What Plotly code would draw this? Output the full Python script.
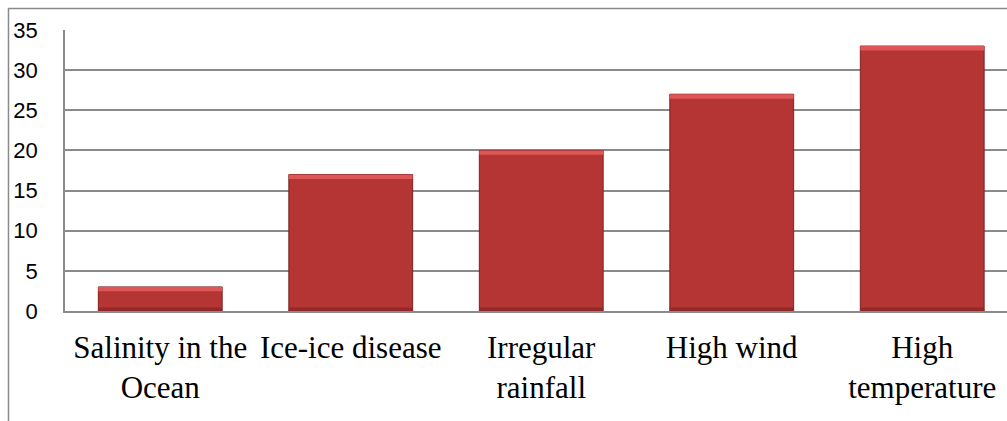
import plotly.graph_objects as go

# Causes and their counts
categories = ["Salinity in the Ocean", "Ice-ice disease", "Irregular rainfall",
              "High wind", "High temperature"]
tick_labels = ["Salinity in the<br>Ocean", "Ice-ice disease", "Irregular<br>rainfall",
               "High wind", "High<br>temperature"]
values = [3, 17, 20, 27, 33]
y_ticks = [0, 5, 10, 15, 20, 25, 30, 35]

BAR = "#b53434"
EDGE = "#7d2020"
BEVEL_TOP = "#de5757"
BEVEL_BOTTOM = "#922828"
bevel_h = 0.55  # height of the bevel bands, in value units

fig = go.Figure()

# main bars
fig.add_trace(go.Bar(
    x=categories, y=values,
    marker=dict(color=BAR, line=dict(color=EDGE, width=1)),
    hoverinfo="x+y",
))

# light bevel band along each bar's top edge
fig.add_trace(go.Bar(
    x=categories, y=[bevel_h] * len(values),
    base=[v - bevel_h for v in values],
    marker=dict(color=BEVEL_TOP, line=dict(width=0)),
    hoverinfo="skip",
))

# darker band along each bar's bottom edge
fig.add_trace(go.Bar(
    x=categories, y=[bevel_h * 0.8] * len(values),
    base=[0] * len(values),
    marker=dict(color=BEVEL_BOTTOM, line=dict(width=0)),
    hoverinfo="skip",
))

fig.update_layout(
    width=1007, height=421,
    margin=dict(l=65, r=0, t=30, b=110),
    paper_bgcolor="white", plot_bgcolor="white",
    barmode="overlay", bargap=0.35,
    showlegend=False,
    xaxis=dict(
        range=[-0.5, 4.445],
        tickmode="array", tickvals=categories, ticktext=tick_labels,
        tickfont=dict(family="Times New Roman, Liberation Serif, serif", size=31, color="#000"),
        showline=True, linecolor="#8a8a8a", linewidth=1.5,
        showgrid=False, ticks="", ticklabelstandoff=8,
        fixedrange=True,
    ),
    yaxis=dict(
        range=[0, 35],
        tickmode="array", tickvals=y_ticks,
        tickfont=dict(family="Arial, Liberation Sans, sans-serif", size=22, color="#000"),
        showgrid=True, gridcolor="#8a8a8a", gridwidth=1.5,
        showline=True, linecolor="#8a8a8a", linewidth=1.5,
        zeroline=False, ticks="", ticklabelstandoff=21,
        fixedrange=True,
    ),
    shapes=[
        # chart-area frame
        dict(type="rect", xref="paper", yref="paper",
             x0=-0.06, x1=1.05, y0=-0.6, y1=1.0765,
             line=dict(color="#8a8a8a", width=1.5), layer="below"),
    ],
)

fig.write_html("out.html")
